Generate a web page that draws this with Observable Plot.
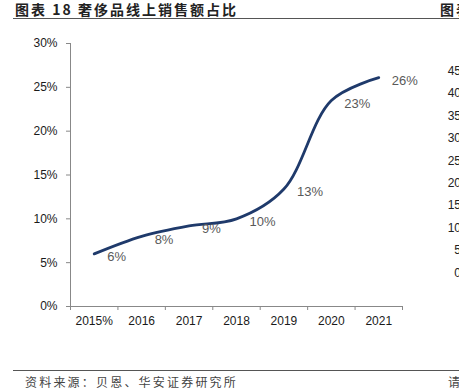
<!DOCTYPE html>
<html>
<head>
<meta charset="utf-8">
<script src="https://cdn.jsdelivr.net/npm/d3@7"></script>
<script src="https://cdn.jsdelivr.net/npm/@observablehq/plot@0.6"></script>
<style>
  html, body { margin: 0; padding: 0; background: #fff; }
  body { width: 459px; height: 389px; position: relative; overflow: hidden; font-family: "Liberation Sans", Arial, sans-serif; }
  .title { position: absolute; top: 2px; left: 15px; font-family: "Noto Sans CJK SC", sans-serif; font-weight: 700; font-size: 14px; letter-spacing: 2px; line-height: 14px; color: #222; white-space: nowrap; }
  .title2 { position: absolute; top: 2px; left: 440px; font-family: "Noto Sans CJK SC", sans-serif; font-weight: 700; font-size: 14px; letter-spacing: 2px; line-height: 14px; color: #222; white-space: nowrap; }
  .rule { position: absolute; left: 13px; width: 460px; height: 0; border-top: 1.2px solid #555; }
  .source { position: absolute; top: 375px; left: 25px; font-family: "Noto Sans CJK SC", sans-serif; font-size: 12px; letter-spacing: 2.2px; line-height: 14px; color: #444; white-space: nowrap; }
  .source2 { position: absolute; top: 375px; left: 448px; font-family: "Noto Sans CJK SC", sans-serif; font-size: 12px; line-height: 14px; color: #444; white-space: nowrap; }
  #chart { position: absolute; top: 30px; left: 0; }
  .nb { position: absolute; right: -2px; font-size: 12px; line-height: 14px; color: #222; text-align: right; }
</style>
</head>
<body>
<div class="title">图表 18 奢侈品线上销售额占比</div>
<div class="title2">图表</div>
<div class="rule" style="top:18px"></div>
<div id="chart"></div>
<div id="neighbor"></div>
<div class="rule" style="top:370px"></div>
<div class="source">资料来源：贝恩、华安证券研究所</div>
<div class="source2">请</div>
<script>
const years = ["2015%", "2016", "2017", "2018", "2019", "2020", "2021"];
const share = [6.0, 8.0, 9.2, 10.0, 13.4, 23.5, 26.1];
const shareLabels = ["6%", "8%", "9%", "10%", "13%", "23%", "26%"];
const yTicks = [0, 5, 10, 15, 20, 25, 30];
const neighborTicks = ["45", "40", "35", "30", "25", "20", "15", "10", "5", "0"];

const rows = years.map((year, i) => ({ pos: i + 0.5, year, share: share[i], label: shareLabels[i] }));
const boundaries = d3.range(0, years.length + 1);
const centers = d3.range(years.length).map(i => i + 0.5);

const chart = Plot.plot({
  width: 459,
  height: 306,
  marginTop: 13,
  marginLeft: 70,
  marginRight: 57,
  marginBottom: 30,
  style: { fontFamily: "'Liberation Sans', Arial, sans-serif", fontSize: "12px", color: "#1a1a1a", background: "transparent" },
  x: { type: "linear", domain: [0, years.length] },
  y: { domain: [0, 30] },
  marks: [
    Plot.axisY({ ticks: yTicks, tickFormat: d => d + "%", tickSize: 4, tickPadding: 9, stroke: "#888", fill: "#1a1a1a", fontSize: 12, label: null }),
    Plot.axisX({ ticks: boundaries, tickFormat: () => "", tickSize: 4, stroke: "#888", label: null }),
    Plot.axisX({ ticks: centers, tickFormat: d => years[Math.round(d - 0.5)], tickSize: 0, tickPadding: 10, fill: "#1a1a1a", fontSize: 12, label: null }),
    Plot.ruleX([0], { stroke: "#888", strokeWidth: 1 }),
    Plot.ruleY([0], { stroke: "#888", strokeWidth: 1 }),
    Plot.line(rows, { x: "pos", y: "share", curve: "catmull-rom", stroke: "#1f3a6b", strokeWidth: 2.8, strokeLinecap: "round" }),
    Plot.text(rows, { x: "pos", y: "share", text: "label", textAnchor: "start", dx: 13, dy: 3, fill: "#595959", fontSize: 13 })
  ]
});
document.getElementById("chart").appendChild(chart);

const nb = document.getElementById("neighbor");
neighborTicks.forEach((t, i) => {
  const el = document.createElement("div");
  el.className = "nb";
  el.textContent = t;
  el.style.top = (64 + i * 22.4) + "px";
  nb.appendChild(el);
});
</script>
</body>
</html>
